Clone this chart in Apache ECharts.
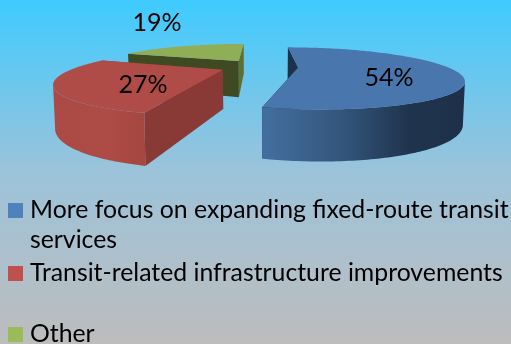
<!DOCTYPE html>
<html>
<head>
<meta charset="utf-8">
<style>html,body{margin:0;padding:0;background:#bbb}#c{width:511px;height:344px}</style>
<script src="https://cdn.jsdelivr.net/npm/echarts@6/dist/echarts.min.js"></script>
</head>
<body>
<div id="c"></div>
<script>
const categories = ['More focus on expanding fixed-route transit services', 'Transit-related infrastructure improvements', 'Other'];
const values = [54, 27, 19];
const legendFirstLines = ['More focus on expanding fixed-route transit', 'Transit-related infrastructure improvements', 'Other'];
const legendWrapped = 'services';

const P = {cx: 259, cy: 66.5, r: 147, f: 0.18, p: 0.35, q: 0.005, e: 0.265, h: 38, sq: 0.99};
const font = 'Lato, Carlito, sans-serif';
const styles = [
  {swatch:'#4f81bd', top:'#4a76ae', start:'#1f3049', end:'#1f3049',
   side:[[0,'#446f9f'],[0.4,'#33557c'],[0.72,'#20344e'],[1,'#1e3049']], lx:389, ly:78, legendTop:198},
  {swatch:'#c0504d', top:'#b04c48', start:'#8a3a36', end:'#8a3a36',
   side:[[0,'#ab4a45'],[0.6,'#ad4b46'],[1,'#a5463f']], lx:143, ly:85, legendTop:261},
  {swatch:'#9bbb59', top:'#8fae55', start:'#3f4a22', end:'#5f6e33',
   side:[[0,'#5f6e33'],[1,'#5f6e33']], lx:157, ly:23, legendTop:322}
];
const total = values.reduce((a,b)=>a+b,0);
function toRad(d){return d*Math.PI/180;}
function project(u,v){
  const w = 1 - P.p*v - P.q*u;
  return {x:P.cx + P.r*u/w, y:P.cy + P.r*P.f*v/w, w};
}
function down(pt){
  return [P.cx + (pt.x-P.cx)*P.sq, pt.y + P.h*Math.pow(pt.w,-0.7)];
}
function sliceShapes(i){
  let a0 = 0; for(let k=0;k<i;k++) a0 += values[k]/total*360;
  const a1 = a0 + values[i]/total*360, mid = (a0+a1)/2;
  const ou = P.e*Math.sin(toRad(mid)), ov = -P.e*Math.cos(toRad(mid));
  const rim = [];
  const steps = Math.ceil(a1-a0);
  for(let s=0;s<=steps;s++){
    const t = toRad(a0+(a1-a0)*s/steps);
    rim.push(project(ou+Math.sin(t), ov-Math.cos(t)));
  }
  const apex = project(ou,ov);
  return {rim, apex};
}
function flatFace(a,b){
  return [[a.x,a.y],[b.x,b.y],down(b),down(a)];
}
function render(i){
  return function(params, api){
    const st = styles[i];
    const {rim, apex} = sliceShapes(i);
    const kids = [];
    kids.push({type:'polygon',shape:{points:flatFace(rim[rim.length-1],apex)},style:{fill:st.end}});
    kids.push({type:'polygon',shape:{points:flatFace(rim[0],apex)},style:{fill:st.start}});
    const front = [];
    for(let s=0;s<rim.length-1;s++){ if(rim[s+1].x<rim[s].x){ if(!front.length) front.push(rim[s]); front.push(rim[s+1]); } }
    if(front.length>1){
      const pts = front.map(q=>[q.x,q.y]).concat(front.slice().reverse().map(down));
      const xs = pts.map(q=>q[0]);
      const grad = new echarts.graphic.LinearGradient(Math.min(...xs),0,Math.max(...xs),0,
        st.side.map(q=>({offset:q[0],color:q[1]})),true);
      kids.push({type:'polygon',shape:{points:pts},style:{fill:grad}});
    }
    const topPts = [[apex.x,apex.y]].concat(rim.map(q=>[q.x,q.y]));
    kids.push({type:'polygon',shape:{points:topPts},style:{fill:st.top}});
    kids.push({type:'text',x:st.lx,y:st.ly,style:{text:api.value(0)+'%',font:'25px '+font,fill:'#000',align:'center',verticalAlign:'middle'}});
    return {type:'group',children:kids};
  };
}
const series = [2,1,0].map(i=>({
  type:'custom', name:categories[i], coordinateSystem:'none',
  data:[values[i]], renderItem:render(i), itemStyle:{color:styles[i].swatch}, silent:true
}));
const legends = categories.map((c,i)=>({
  data:[c], left:8, top:styles[i].legendTop, orient:'vertical', padding:0,
  icon:'rect', itemWidth:15, itemHeight:15, itemGap:0, selectedMode:false,
  formatter:()=>legendFirstLines[i],
  textStyle:{fontFamily:font,fontSize:24.8,color:'#000',padding:[0,0,0,2]}
}));
const chart = echarts.init(document.getElementById('c'),null,{renderer:'canvas'});
chart.setOption({
  animation:false,
  backgroundColor:new echarts.graphic.LinearGradient(0,0,0,1,[
    {offset:0,color:'#3fcbff'},{offset:0.5,color:'#9cc3da'},{offset:1,color:'#bdbdbd'}]),
  legend:legends,
  graphic:[{type:'text',left:30,top:228,style:{text:legendWrapped,font:'24.8px '+font,fill:'#000'}}],
  series
});
</script>
</body>
</html>
